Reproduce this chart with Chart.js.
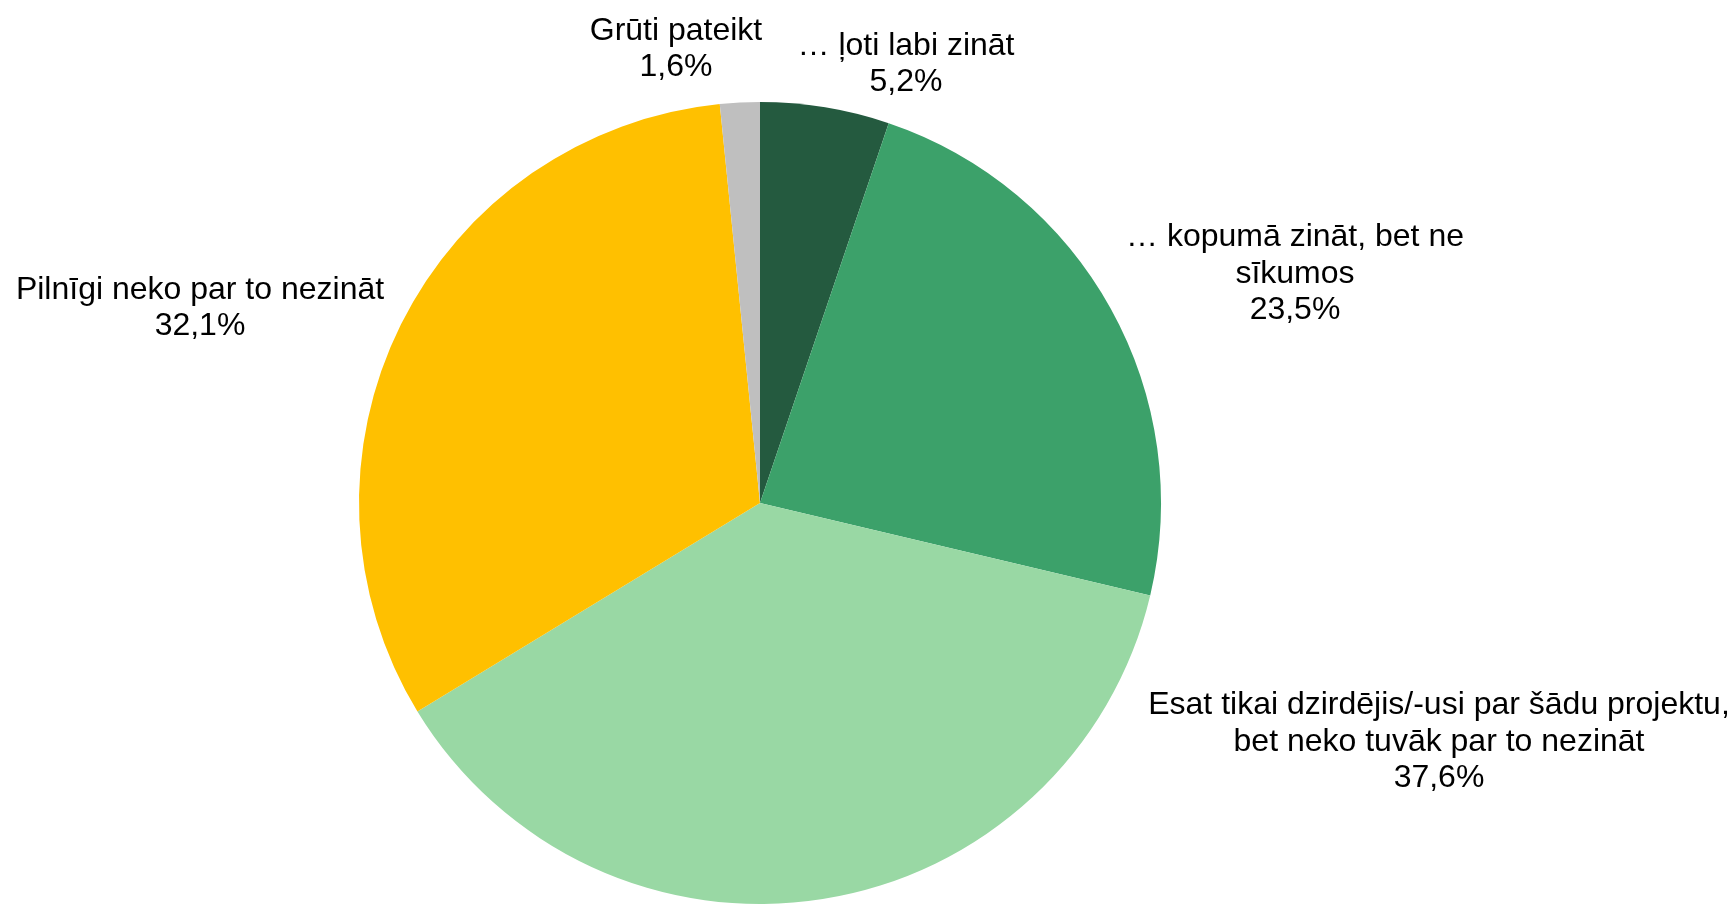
<!DOCTYPE html>
<html>
<head>
<meta charset="utf-8">
<script src="https://cdn.jsdelivr.net/npm/chart.js@4"></script>
<style>
  html, body { margin: 0; padding: 0; background: #ffffff; }
  #wrap { width: 1736px; height: 905px; position: relative; }
</style>
</head>
<body>
<div id="wrap"><canvas id="chart"></canvas></div>
<script>
// categories, clockwise from the top
const categories = [
  ['… ļoti labi zināt'],
  ['… kopumā zināt, bet ne', 'sīkumos'],
  ['Esat tikai dzirdējis/-usi par šādu projektu,', 'bet neko tuvāk par to nezināt'],
  ['Pilnīgi neko par to nezināt'],
  ['Grūti pateikt']
];
const values = [5.2, 23.5, 37.6, 32.1, 1.6];
const colors = ['#245A3F', '#3CA16A', '#99D8A4', '#FFC000', '#BFBFBF'];

// label block centres, offset from the pie centre (px)
const labelOffsets = [
  [146, -439],
  [535, -229],
  [679, 239],
  [-560, -195],
  [-84, -454]
];
const lineHeight = 36.5;

const pctLabels = {
  id: 'pctLabels',
  afterDatasetsDraw(chart) {
    const ctx = chart.ctx;
    const arcs = chart.getDatasetMeta(0).data;
    ctx.save();
    ctx.font = '32px "Liberation Sans", Arial, sans-serif';
    ctx.fillStyle = '#000000';
    ctx.textAlign = 'center';
    ctx.textBaseline = 'middle';
    arcs.forEach((arc, i) => {
      const lines = categories[i].concat([values[i].toFixed(1).replace('.', ',') + '%']);
      const cx = arc.x + labelOffsets[i][0];
      const cy = arc.y + labelOffsets[i][1];
      const top = cy - (lines.length - 1) * lineHeight / 2;
      lines.forEach((t, j) => ctx.fillText(t, cx, top + j * lineHeight));
    });
    ctx.restore();
  }
};

new Chart(document.getElementById('chart'), {
  type: 'pie',
  data: {
    labels: categories,
    datasets: [{
      data: values,
      backgroundColor: colors,
      borderWidth: 0
    }]
  },
  options: {
    responsive: true,
    maintainAspectRatio: false,
    animation: false,
    layout: {
      padding: { top: 102, bottom: 1, left: 359, right: 575 }
    },
    plugins: {
      legend: { display: false },
      tooltip: { enabled: false }
    }
  },
  plugins: [pctLabels]
});
</script>
</body>
</html>
